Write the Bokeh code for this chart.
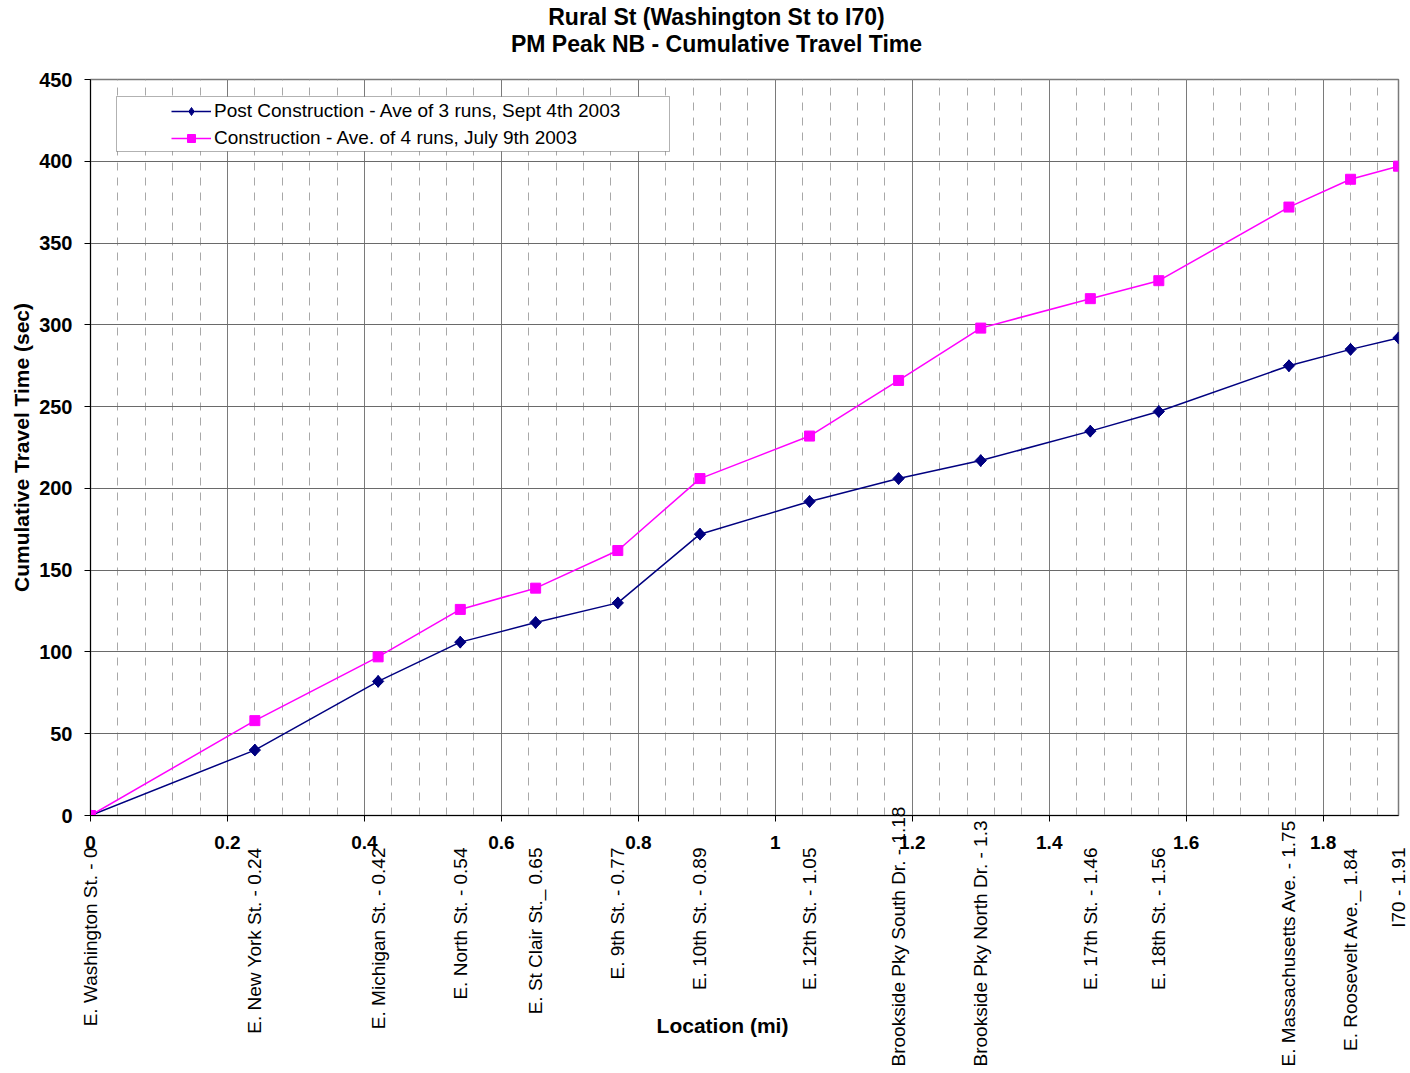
import math
from bokeh.plotting import figure
from bokeh.layouts import column
from bokeh.models import (Range1d, FixedTicker, SingleIntervalTicker, NumeralTickFormatter,
                          ColumnDataSource, Legend, LegendItem, BoxAnnotation)
from bokeh.core.properties import value
from bokeh.embed import file_html
from bokeh.resources import INLINE

# ---------------- data ----------------
station_miles = [0, 0.24, 0.42, 0.54, 0.65, 0.77, 0.89, 1.05, 1.18, 1.3, 1.46, 1.56, 1.75, 1.84, 1.91]
station_names = [
    "E. Washington St. - 0",
    "E. New York St. - 0.24",
    "E. Michigan St. - 0.42",
    "E. North St. - 0.54",
    "E. St Clair St._ 0.65",
    "E. 9th St. - 0.77",
    "E. 10th St. - 0.89",
    "E. 12th St. - 1.05",
    "Brookside Pky South Dr. - 1.18",
    "Brookside Pky North Dr. - 1.3",
    "E. 17th St. - 1.46",
    "E. 18th St. - 1.56",
    "E. Massachusetts Ave. - 1.75",
    "E. Roosevelt Ave._ 1.84",
    "I70 - 1.91",
]
post_construction = [0, 40, 82, 106, 118, 130, 172, 192, 206, 217, 235, 247, 275, 285, 292]
construction = [0, 58, 97, 126, 139, 162, 206, 232, 266, 298, 316, 327, 372, 389, 397]

x_ticks = [0, 0.2, 0.4, 0.6, 0.8, 1.0, 1.2, 1.4, 1.6, 1.8]
x_minor_ticks = [round(0.04 * k, 2) for k in range(48)]

title_lines = ["Rural St (Washington St to I70)", "PM Peak NB - Cumulative Travel Time"]
series_names = ["Post Construction - Ave of 3 runs, Sept 4th 2003",
                "Construction - Ave. of 4 runs, July 9th 2003"]
x_title = "Location (mi)"
y_title = "Cumulative Travel Time (sec)"

# ---------------- layout ----------------
FONT = "Liberation Sans"
X0, X1 = 0, 1.91
Y0, Y1 = 0, 450
W = 1410
FL, FT, FW, FH = 90, 79, 1308, 736      # main frame in page pixels
TOP_H = 68                              # title strip
MAIN_TOP = FT - TOP_H                   # border above main frame
MAIN_BOT = 45                           # border below main frame (x tick labels)
MAIN_H = MAIN_TOP + FH + MAIN_BOT
LOW_START = 804                         # page y where the label strip begins
LOW_H = 1073 - LOW_START
px_x = (X1 - X0) / FW
px_y = (Y1 - Y0) / FH

def px_to_x(ix):
    return X0 + (ix - FL) * px_x

def px_to_y(iy):
    return Y1 - (iy - FT) * px_y

# ---------------- main chart ----------------
p = figure(width=W, height=MAIN_H, output_backend="svg", toolbar_location=None,
           x_range=Range1d(X0, X1), y_range=Range1d(Y0, Y1),
           min_border_left=FL, min_border_top=MAIN_TOP, min_border_right=W - FL - FW,
           min_border_bottom=MAIN_BOT, background_fill_color="white", border_fill_color="white")
p.outline_line_color = "#7a7a7a"
p.outline_line_width = 1.5

# strips above/below: full-width frames on the same scale when frames need not align
free = hasattr(p, "frame_align")
strip_x = Range1d(px_to_x(0), px_to_x(W)) if free else p.x_range

def strip(height):
    f = figure(width=W, height=height, output_backend="svg", toolbar_location=None,
               x_range=strip_x, y_range=Range1d(-height, 0), min_border=0,
               x_axis_location=None, y_axis_location=None,
               background_fill_color=None, border_fill_color=None, outline_line_color=None)
    f.grid.visible = False
    if free:
        f.frame_align = False
    return f

# ---------------- title strip ----------------
t = strip(TOP_H)
t.text(x=[px_to_x(716)] * 2, y=[-16, -43], text=title_lines, text_align="center",
       text_baseline="middle", text_font=value(FONT), text_font_style="bold",
       text_font_size="23px", text_color="black")

xa = p.xaxis[0]
xa.ticker = FixedTicker(ticks=x_ticks, minor_ticks=x_minor_ticks)
xa.formatter = NumeralTickFormatter(format="0.[0]")
xa.major_label_text_font = FONT
xa.major_label_text_font_style = "bold"
xa.major_label_text_font_size = "19px"
xa.major_label_text_color = "black"
xa.major_label_standoff = 14
xa.major_tick_in = 0
xa.major_tick_out = 6
xa.minor_tick_line_color = None
xa.axis_line_color = "black"
xa.major_tick_line_color = "black"

ya = p.yaxis[0]
ya.ticker = SingleIntervalTicker(interval=50, num_minor_ticks=0)
ya.major_label_text_font = FONT
ya.major_label_text_font_style = "bold"
ya.major_label_text_font_size = "20px"
ya.major_label_text_color = "black"
ya.major_label_standoff = 12
ya.major_tick_in = 0
ya.major_tick_out = 6
ya.minor_tick_line_color = None
ya.axis_line_color = "black"
ya.major_tick_line_color = "black"
ya.axis_label = y_title
ya.axis_label_text_font = FONT
ya.axis_label_text_font_style = "bold"
ya.axis_label_text_font_size = "21px"
ya.axis_label_text_color = "black"
ya.axis_label_standoff = 3

p.xgrid.ticker = xa.ticker
p.xgrid.grid_line_color = "#7a7a7a"
p.xgrid.minor_grid_line_color = "#a8a8a8"
p.xgrid.minor_grid_line_dash = "8 7"
p.ygrid.ticker = ya.ticker
p.ygrid.grid_line_color = "#6a6a6a"

src = ColumnDataSource(dict(x=station_miles, post=post_construction, cons=construction))
l1 = p.line("x", "post", source=src, line_color="#000080", line_width=1.5)
# diamond glyph (used for the legend swatch), covered by the rotated squares on the chart
m1_leg = p.scatter("x", "post", source=src, marker="diamond", size=12,
                   fill_color="#000080", line_color="#000080")
m1 = p.scatter("x", "post", source=src, marker="square", angle=math.pi / 4, size=8,
               fill_color="#000080", line_color="#000080")
l2 = p.line("x", "cons", source=src, line_color="#FF00FF", line_width=1.5)
m2 = p.scatter("x", "cons", source=src, marker="square", size=10,
               fill_color="#FF00FF", line_color="#FF00FF")

p.add_layout(BoxAnnotation(left=px_to_x(116), right=px_to_x(669),
                           top=px_to_y(96), bottom=px_to_y(151),
                           fill_color="white", fill_alpha=1, line_color="black", line_width=1))
legend = Legend(items=[LegendItem(label=series_names[0], renderers=[l1, m1_leg]),
                       LegendItem(label=series_names[1], renderers=[l2, m2])],
                location=(81, 666), orientation="vertical",
                label_text_font=FONT, label_text_font_size="19px", label_text_color="black",
                glyph_width=40, glyph_height=20, label_height=20, spacing=5,
                label_standoff=3, padding=5, margin=0,
                border_line_color=None, background_fill_alpha=0)
p.add_layout(legend)

# ---------------- station label strip (overlaps the axis area, transparent) ----------------
q = strip(LOW_H)
q.margin = (-(TOP_H + MAIN_H - LOW_START), 0, 0, 0)

LONG = 25
short = [(m, n) for m, n in zip(station_miles, station_names) if len(n) <= LONG]
long_ = [(m, n) for m, n in zip(station_miles, station_names) if len(n) > LONG]
q.text(x=[m for m, _ in short], y=[-(847 - LOW_START)] * len(short), text=[n for _, n in short],
       angle=math.pi / 2, text_align="right", text_baseline="middle", text_font=value(FONT),
       text_font_size="19px", text_color="black")
q.text(x=[m for m, _ in long_], y=[-(1066 - LOW_START)] * len(long_), text=[n for _, n in long_],
       angle=math.pi / 2, text_align="left", text_baseline="middle", text_font=value(FONT),
       text_font_size="19px", text_color="black")
q.text(x=[px_to_x(722)], y=[-(1025 - LOW_START)], text=[x_title], text_align="center",
       text_baseline="middle", text_font=value(FONT), text_font_style="bold",
       text_font_size="21px", text_color="black")

layout = column(t, p, q, spacing=0)
open("out.html", "w").write(file_html(layout, INLINE))
